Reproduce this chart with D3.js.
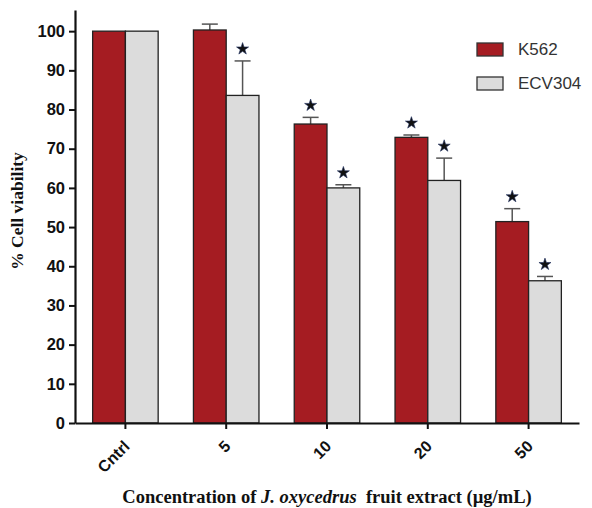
<!DOCTYPE html>
<html><head><meta charset="utf-8">
<script src="https://cdn.jsdelivr.net/npm/d3@7"></script>
<style>body{margin:0;background:#fff}svg{display:block}</style>
</head><body>
<script>
const categories = ["Cntrl", "5", "10", "20", "50"];
const seriesNames = ["K562", "ECV304"];
const k562Values = [100, 100.3, 76.3, 72.9, 51.4];
const k562Errors = [0, 1.5, 1.7, 0.6, 3.3];
const ecvValues = [100, 83.6, 60.0, 61.9, 36.3];
const ecvErrors = [0, 8.8, 0.8, 5.7, 1.1];
const k562Sig = [false, false, true, true, true];
const ecvSig = [false, true, true, true, true];
const yTicks = [0, 10, 20, 30, 40, 50, 60, 70, 80, 90, 100];
const colors = ["#A51C22", "#DCDCDC"];

const W = 592, H = 508;
const svg = d3.select("body").append("svg").attr("width", W).attr("height", H);

const x0 = 75, x1 = 579, yTop = 10, yBot = 423;
const y = d3.scaleLinear().domain([0, 105.4]).range([yBot, yTop]);
const x = d3.scaleBand().domain(categories).range([x0, x1]).paddingInner(0.35).paddingOuter(0.175);
const xs = d3.scaleBand().domain(seriesNames).range([0, x.bandwidth()]);

const series = [
  {name: "K562", values: k562Values, errors: k562Errors, sig: k562Sig, color: colors[0]},
  {name: "ECV304", values: ecvValues, errors: ecvErrors, sig: ecvSig, color: colors[1]}
];

const g = svg.append("g");
series.forEach(s => {
  const data = categories.map((c, i) => ({c, v: s.values[i], e: s.errors[i], sig: s.sig[i]}));
  const gx = d => x(d.c) + xs(s.name);
  g.selectAll(null).data(data.filter(d => d.e > 0)).join("line")
    .attr("x1", d => gx(d) + xs.bandwidth()/2).attr("x2", d => gx(d) + xs.bandwidth()/2)
    .attr("y1", d => y(d.v)).attr("y2", d => y(d.v + d.e))
    .attr("stroke", "#555").attr("stroke-width", 1.5);
  g.selectAll(null).data(data.filter(d => d.e > 0)).join("line")
    .attr("x1", d => gx(d) + xs.bandwidth()/2 - 8).attr("x2", d => gx(d) + xs.bandwidth()/2 + 8)
    .attr("y1", d => y(d.v + d.e)).attr("y2", d => y(d.v + d.e))
    .attr("stroke", "#555").attr("stroke-width", 1.5);
  g.selectAll(null).data(data).join("rect")
    .attr("x", d => gx(d)).attr("y", d => y(d.v))
    .attr("width", xs.bandwidth()).attr("height", d => y(0) - y(d.v))
    .attr("fill", s.color).attr("stroke", "#222").attr("stroke-width", 1.3);
  g.selectAll(null).data(data.filter(d => d.sig)).join("path")
    .attr("d", d3.symbol(d3.symbolStar, 45))
    .attr("transform", d => `translate(${gx(d) + xs.bandwidth()/2},${y(d.v + d.e) - 12})`)
    .attr("fill", "#111").attr("stroke", "#1a2a5a").attr("stroke-width", 0.6);
});

// Y axis
const yAxis = svg.append("g").attr("transform", `translate(${x0},0)`)
  .call(d3.axisLeft(y).tickValues(yTicks).tickSize(6).tickPadding(4).tickSizeOuter(0));
yAxis.select(".domain").attr("stroke", "#111").attr("stroke-width", 2.2);
yAxis.selectAll(".tick line").attr("stroke", "#111").attr("stroke-width", 2);
yAxis.selectAll(".tick text").attr("font-family", "Arial, 'Liberation Sans', sans-serif")
  .attr("font-weight", "bold").attr("font-size", 16.5).attr("fill", "#111");

// X axis
const xAxis = svg.append("g").attr("transform", `translate(0,${yBot})`)
  .call(d3.axisBottom(x).tickSize(6).tickSizeOuter(0));
xAxis.select(".domain").attr("stroke", "#111").attr("stroke-width", 2.2);
xAxis.selectAll(".tick line").attr("stroke", "#111").attr("stroke-width", 2);
xAxis.selectAll(".tick text").attr("font-family", "Arial, 'Liberation Sans', sans-serif")
  .attr("font-weight", "bold").attr("font-size", 16).attr("fill", "#111")
  .attr("text-anchor", "end").attr("dy", "0.35em")
  .attr("transform", "translate(-5,14) rotate(-45)");

// Axis titles
svg.append("text").attr("transform", `translate(23,211) rotate(-90)`)
  .attr("text-anchor", "middle").attr("font-family", "'Liberation Serif', 'Times New Roman', serif")
  .attr("font-weight", "bold").attr("font-size", 17.5).attr("fill", "#111")
  .text("% Cell viability");

const xt = svg.append("text").attr("x", 327).attr("y", 503).attr("text-anchor", "middle")
  .attr("font-family", "'Liberation Serif', 'Times New Roman', serif")
  .attr("font-weight", "bold").attr("font-size", 18.5).attr("fill", "#111")
  .attr("xml:space", "preserve");
xt.append("tspan").text("Concentration of ");
xt.append("tspan").attr("font-style", "italic").text("J. oxycedrus");
xt.append("tspan").text("  fruit extract (µg/mL)");

// Legend
const leg = svg.append("g");
series.forEach((s, i) => {
  const ly = 43 + i * 34;
  leg.append("rect").attr("x", 477).attr("y", ly).attr("width", 26).attr("height", 13)
    .attr("fill", s.color).attr("stroke", "#333").attr("stroke-width", 1.3);
  leg.append("text").attr("x", 518).attr("y", ly + 6.5).attr("dy", "0.35em")
    .attr("font-family", "Arial, 'Liberation Sans', sans-serif").attr("font-size", 17)
    .attr("fill", "#333").text(s.name);
});
</script>
</body></html>
